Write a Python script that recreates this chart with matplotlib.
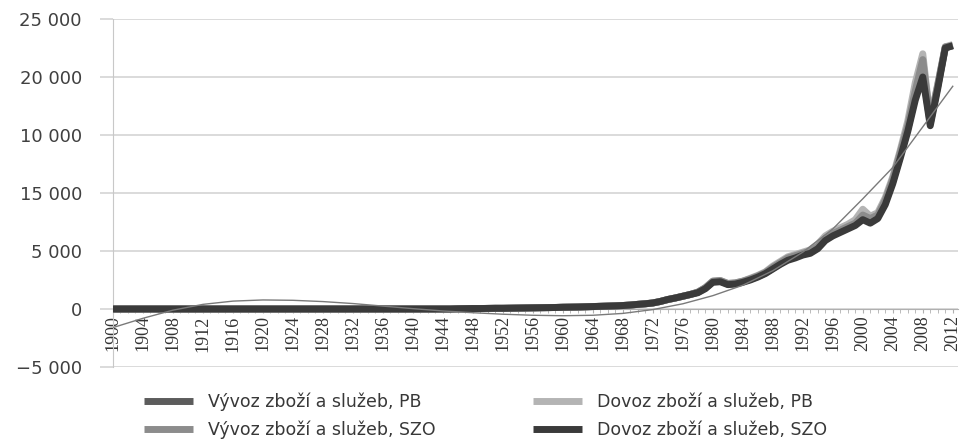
import matplotlib
matplotlib.use("Agg")
import matplotlib.pyplot as plt
from matplotlib.ticker import FixedLocator, FixedFormatter, MultipleLocator

# years 1900 .. 2012
years = list(range(1900, 2013))

# values (1900-1945 all at ~0)
early = [0, 0, 0, 0, 0, 0, 0, 0, 0, 0,
         0, 0, 0, 0, 0, 0, 0, 0, 0, 0,
         0, 0, 0, 0, 0, 0, 0, 0, 0, 0,
         0, 0, 0, 0, 0, 0, 0, 0, 0, 0,
         0, 0, 0, 0, 0, 0]

vyvoz_pb = early + [
    20, 30, 40, 40, 50, 60, 60, 70, 80, 90,
    100, 110, 120, 130, 150, 160, 170, 190, 210, 230,
    250, 270, 300, 340, 400, 450, 520, 650, 820, 950,
    1100, 1250, 1450, 1800, 2350, 2400, 2150, 2200, 2350, 2550,
    2800, 3100, 3500, 3900, 4300, 4500, 4750, 4900, 5300, 6000,
    6400, 6700, 7000, 7300, 7900, 7700, 8000, 9200, 11000, 13200,
    15500, 18300, 20500, 16000, 19200, 22500, 22700]

vyvoz_szo = early + [
    20, 30, 40, 40, 50, 60, 60, 70, 80, 90,
    100, 110, 120, 130, 150, 160, 170, 190, 210, 230,
    250, 270, 300, 340, 400, 450, 520, 650, 820, 950,
    1100, 1250, 1450, 1850, 2400, 2450, 2200, 2250, 2400, 2600,
    2850, 3150, 3600, 4000, 4400, 4600, 4800, 5000, 5400, 6100,
    6500, 6800, 7100, 7400, 8100, 7800, 8100, 9400, 11200, 13500,
    15800, 18800, 21500, 16200, 19300, 22600, 22700]

dovoz_pb = early + [
    20, 30, 40, 40, 50, 60, 60, 70, 80, 90,
    100, 110, 120, 130, 150, 160, 170, 190, 210, 230,
    250, 270, 300, 340, 400, 450, 520, 650, 800, 950,
    1100, 1250, 1450, 1800, 2400, 2450, 2200, 2250, 2400, 2650,
    2900, 3200, 3700, 4100, 4500, 4700, 4900, 5100, 5600, 6300,
    6700, 7000, 7300, 7700, 8600, 8000, 8300, 9600, 11400, 13700,
    16200, 19500, 22000, 16300, 19400, 22600, 22800]

dovoz_szo = early + [
    20, 30, 40, 40, 50, 60, 60, 70, 80, 90,
    100, 110, 120, 130, 150, 160, 170, 190, 210, 230,
    250, 270, 300, 340, 400, 450, 520, 650, 820, 950,
    1100, 1250, 1400, 1750, 2300, 2350, 2100, 2150, 2300, 2500,
    2750, 3050, 3450, 3850, 4200, 4400, 4650, 4800, 5200, 5900,
    6300, 6600, 6900, 7200, 7700, 7400, 7800, 9000, 10800, 13000,
    15300, 18000, 20000, 15800, 19000, 22500, 22700]

# thin polynomial trend line, read every 4 years
trend_years = list(range(1900, 2013, 4))
trend = [-1600, -800, -100, 400, 680, 780, 750, 640, 470, 250,
         30, -170, -320, -450, -540, -580, -540, -380, -50, 450,
         1150, 2050, 3300, 4900, 6900, 9500, 12200, 15700, 19200]

y_ticks = [-5000, 0, 5000, 10000, 15000, 20000, 25000]
y_labels = ["\u22125 000", "0", "5 000", "15 000", "10 000", "20 000", "25 000"]

series = [
    ("Vývoz zboží a služeb, PB", vyvoz_pb, "#5c5c5c"),
    ("Vývoz zboží a služeb, SZO", vyvoz_szo, "#8c8c8c"),
    ("Dovoz zboží a služeb, PB", dovoz_pb, "#b4b4b4"),
    ("Dovoz zboží a služeb, SZO", dovoz_szo, "#3a3a3a"),
]

fig = plt.figure(figsize=(9.63, 4.41), dpi=100)
ax = fig.add_axes([113 / 963, 1 - 367 / 441, (958 - 113) / 963, (367 - 19) / 441])

handles = {}
for name, vals, col in [series[0], series[2], series[1], series[3]]:
    ln, = ax.plot(years, vals, color=col, lw=5, solid_capstyle="butt",
                  solid_joinstyle="round", zorder=3)
    handles[name] = ln
ax.plot(trend_years, trend, color="#7a7a7a", lw=1.0, zorder=4)

ax.set_ylim(-5000, 25000)
ax.set_xlim(1900, 2012.7)
ax.yaxis.set_major_locator(FixedLocator(y_ticks))
ax.yaxis.set_major_formatter(FixedFormatter(y_labels))
ax.grid(axis="y", color="#d4d4d4", lw=1.2, zorder=0)

for s in ["top", "right"]:
    ax.spines[s].set_visible(False)
ax.spines["left"].set_color("#c8c8c8")
ax.spines["bottom"].set_position(("data", 0))
ax.spines["bottom"].set_color("#b0b0b0")

ax.xaxis.set_major_locator(MultipleLocator(4))
ax.xaxis.set_minor_locator(MultipleLocator(1))
ax.tick_params(axis="x", which="both", direction="out", length=3,
               color="#b0b0b0", pad=1.5)
ax.tick_params(axis="y", length=9.4, width=1.2, color="#d4d4d4", pad=13,
               labelsize=13, labelcolor="#404040")
for lab in ax.get_xticklabels():
    lab.set_rotation(90)
    lab.set_fontfamily("Liberation Serif")
    lab.set_fontsize(13)
    lab.set_color("#333333")
for lab in ax.get_yticklabels():
    lab.set_fontfamily("DejaVu Sans")

order = [s[0] for s in series]
leg = fig.legend([handles[n] for n in order], order, loc="upper left",
                 bbox_to_anchor=(130 / 963, 1 - 379 / 441), ncol=2,
                 frameon=False, handlelength=2.8, handletextpad=0.9,
                 columnspacing=5.6, labelspacing=0.55, borderpad=0.3,
                 prop={"family": "DejaVu Sans", "size": 12.5})
for t in leg.get_texts():
    t.set_color("#383838")

fig.savefig("out.png", dpi=100)
